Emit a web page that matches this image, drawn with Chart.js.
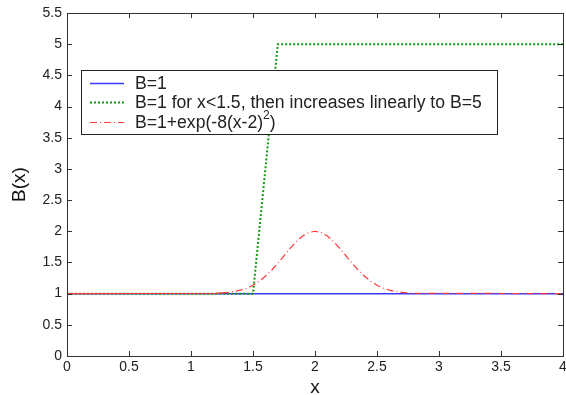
<!DOCTYPE html>
<html><head><meta charset="utf-8">
<script src="https://cdn.jsdelivr.net/npm/chart.js@4/dist/chart.umd.min.js"></script>
<style>html,body{margin:0;padding:0;background:#fff}#w{width:566px;height:395px}</style>
</head><body><div id="w"><canvas id="c" width="566" height="395"></canvas></div>
<script>
// ---- data ----
const xTicks = [0, 0.5, 1, 1.5, 2, 2.5, 3, 3.5, 4];
const yTicks = [0, 0.5, 1, 1.5, 2, 2.5, 3, 3.5, 4, 4.5, 5, 5.5];
const seriesLabels = ["B=1", "B=1 for x<1.5, then increases linearly to B=5", "B=1+exp(-8(x-2)^2)"];
const constX = [0, 4];
const constY = [1, 1];
const rampX = [0, 1.5, 1.7, 4];
const rampY = [1, 1, 5, 5];
const gaussX = [0, 1.2, 1.25, 1.3, 1.35, 1.4, 1.45, 1.5, 1.55, 1.6, 1.65, 1.7, 1.75, 1.8, 1.85, 1.9, 1.95, 2.0,
                2.05, 2.1, 2.15, 2.2, 2.25, 2.3, 2.35, 2.4, 2.45, 2.5, 2.55, 2.6, 2.65, 2.7, 2.75, 2.8, 4];
const gaussY = [1, 1.006, 1.011, 1.02, 1.034, 1.056, 1.089, 1.135, 1.198, 1.278, 1.375, 1.487, 1.607, 1.726, 1.835, 1.923, 1.98, 2.0,
                1.98, 1.923, 1.835, 1.726, 1.607, 1.487, 1.375, 1.278, 1.198, 1.135, 1.089, 1.056, 1.034, 1.02, 1.011, 1.006, 1];

const pts = (xs, ys) => xs.map((x, i) => ({x, y: ys[i]}));
const FONT = "'Liberation Sans', Arial, sans-serif";

const frame = {
  id: 'frame',
  afterDatasetsDraw(chart) {
    const {ctx, chartArea: a, scales: {x, y}} = chart;
    ctx.save();
    ctx.strokeStyle = '#333';
    ctx.lineWidth = 1;
    ctx.beginPath();
    const L = 5;
    xTicks.forEach(v => {
      const px = Math.round(x.getPixelForValue(v)) + 0.5;
      ctx.moveTo(px, a.bottom); ctx.lineTo(px, a.bottom - L);
      ctx.moveTo(px, a.top); ctx.lineTo(px, a.top + L);
    });
    yTicks.forEach(v => {
      const py = Math.round(y.getPixelForValue(v)) + 0.5;
      ctx.moveTo(a.left, py); ctx.lineTo(a.left + L, py);
      ctx.moveTo(a.right, py); ctx.lineTo(a.right - L, py);
    });
    ctx.stroke();
    ctx.strokeRect(Math.round(a.left) + 0.5, Math.round(a.top) + 0.5, Math.round(a.right - a.left), Math.round(a.bottom - a.top));

    // legend box
    const bx = 81, by = 70, bw = 416, bh = 64;
    ctx.fillStyle = '#fff';
    ctx.fillRect(bx, by, bw, bh);
    ctx.strokeStyle = '#222';
    ctx.strokeRect(bx + 0.5, by + 0.5, bw, bh);
    const rows = [83, 102, 122];
    chart.data.datasets.forEach((ds, i) => {
      const yy = rows[i] + 0.5;
      ctx.strokeStyle = ds.borderColor;
      ctx.lineWidth = ds.borderWidth;
      ctx.setLineDash(ds.borderDash || []);
      ctx.beginPath(); ctx.moveTo(90, yy); ctx.lineTo(124, yy); ctx.stroke();
      ctx.setLineDash([]);
      ctx.fillStyle = '#222';
      ctx.font = '17.6px ' + FONT;
      ctx.textBaseline = 'middle';
      const lab = seriesLabels[i];
      const k = lab.indexOf('^');
      if (k < 0) { ctx.fillText(lab, 135, rows[i] + 1); }
      else {
        const a1 = lab.slice(0, k), sup = lab[k + 1], rest = lab.slice(k + 2);
        ctx.fillText(a1, 135, rows[i] + 1);
        let w = ctx.measureText(a1).width;
        ctx.font = '12px ' + FONT;
        ctx.fillText(sup, 135 + w, rows[i] - 6);
        w += ctx.measureText(sup).width;
        ctx.font = '17.6px ' + FONT;
        ctx.fillText(rest, 135 + w, rows[i] + 1);
      }
    });
    ctx.restore();
  }
};

new Chart(document.getElementById('c'), {
  type: 'line',
  data: {
    datasets: [
      {label: seriesLabels[0], data: pts(constX, constY), borderColor: '#3a3aff', borderWidth: 1.5, pointRadius: 0, order: 3},
      {label: seriesLabels[1], data: pts(rampX, rampY), borderColor: '#129a12', borderWidth: 2, borderDash: [2, 2], pointRadius: 0, order: 2},
      {label: seriesLabels[2], data: pts(gaussX, gaussY), borderColor: '#ff3a3a', borderWidth: 1.2, borderDash: [7, 3, 1, 3], pointRadius: 0, order: 1,
       segment: {borderDash: c => c.p1.parsed.x <= 1.25 ? [] : [7, 3, 1, 3]}}
    ]
  },
  options: {
    responsive: false, animation: false, devicePixelRatio: 1,
    layout: {padding: {left: 0, top: 13, right: 3, bottom: 0}},
    plugins: {legend: {display: false}, tooltip: {enabled: false}},
    scales: {
      x: {
        type: 'linear', min: 0, max: 4,
        afterFit: s => { s.height = 39; s.paddingLeft = 0; s.paddingRight = 0; },
        afterBuildTicks: s => { s.ticks = xTicks.map(v => ({value: v})); },
        grid: {display: false, drawTicks: false},
        border: {display: false},
        ticks: {padding: 3, color: '#222', font: {family: FONT, size: 14}, maxRotation: 0, callback: v => String(v)},
        title: {display: true, text: 'x', color: '#111', font: {family: FONT, size: 19}, padding: {top: 0, bottom: -4}}
      },
      y: {
        type: 'linear', min: 0, max: 5.5,
        afterFit: s => { s.width = 67; s.paddingTop = 0; s.paddingBottom = 0; },
        afterBuildTicks: s => { s.ticks = yTicks.map(v => ({value: v})); },
        grid: {display: false, drawTicks: false},
        border: {display: false},
        ticks: {padding: 5, color: '#222', font: {family: FONT, size: 14}, callback: v => String(v)},
        title: {display: true, text: 'B(x)', color: '#111', font: {family: FONT, size: 19}, padding: {top: 8, bottom: 0}}
      }
    }
  },
  plugins: [frame]
});
</script></body></html>
